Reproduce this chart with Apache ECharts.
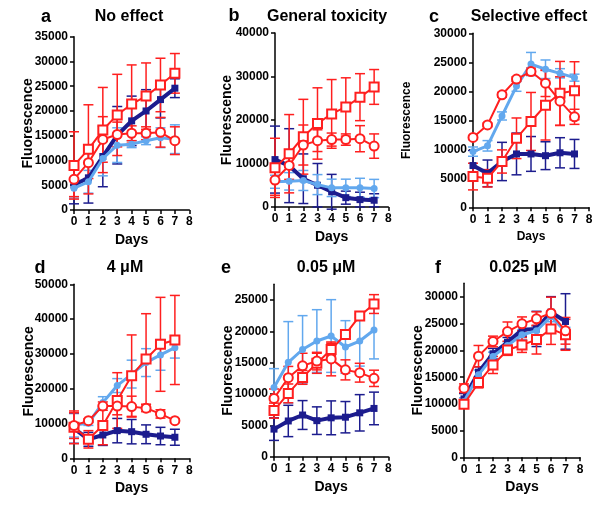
<!DOCTYPE html>
<html>
<head>
<meta charset="utf-8">
<script src="https://cdn.jsdelivr.net/npm/echarts@6/dist/echarts.min.js"></script>
<style>
  html, body { margin: 0; padding: 0; background: #fff; }
  #chart { width: 600px; height: 512px; }
</style>
</head>
<body>
<div id="chart"></div>
<script>
const days = [0, 1, 2, 3, 4, 5, 6, 7];

// a - No effect
const aNavy = [5050, 6500, 10800, 15100, 18000, 20000, 22300, 24600];
const aNavySd = [3800, 5100, 6100, 5800, 5000, 4300, 3700, 1900];
const aLight = [4400, 5700, 10400, 13100, 13300, 14000, 14600, 14300];
const aLightSd = [2000, 2300, 3500, 3500, 700, 800, 2000, 2900];
const aRedSq = [9000, 12250, 16150, 19200, 21400, 23000, 25250, 27600];
const aRedSqSd = [6800, 9000, 8600, 8200, 7900, 6700, 5400, 4000];
const aRedCi = [6200, 9550, 14250, 15250, 15500, 15500, 15700, 14000];
const aRedCiSd = [3500, 3200, 4600, 2500, 1500, 1300, 3000, 2800];

// b - General toxicity (same controls as a)
const bNavy = [10900, 9500, 6500, 5000, 3500, 2150, 1700, 1550];
const bNavySd = [7700, 8500, 5700, 5000, 4000, 1500, 1700, 1500];
const bLight = [5800, 5900, 6100, 5150, 4400, 4400, 4400, 4250];
const bLightSd = [1500, 2000, 2300, 2300, 2000, 2000, 2200, 2100];
const bRedSq = [9000, 12250, 16150, 19200, 21400, 23000, 25250, 27600];
const bRedSqSd = [6800, 9000, 8600, 8200, 7900, 6700, 5400, 4000];
const bRedCi = [6200, 9550, 14250, 15250, 15500, 15500, 15700, 14000];
const bRedCiSd = [3500, 3200, 4600, 2500, 1500, 1300, 3000, 2800];

// c - Selective effect
const cNavy = [7200, 5850, 7900, 9200, 9200, 8900, 9400, 9200];
const cNavySd = [2600, 2300, 3300, 3600, 3000, 2400, 2600, 2500];
const cLight = [9600, 10600, 15750, 20900, 24700, 23800, 23100, 22350];
const cLightSd = [800, 900, 700, 900, 2000, 1600, 800, 600];
const cRedSq = [5300, 5000, 7900, 11900, 14800, 17600, 19650, 20100];
const cRedSqSd = [2300, 1500, 2000, 3500, 5000, 6000, 5500, 5000];
const cRedCi = [12050, 14200, 19400, 22100, 23400, 21400, 18300, 15600];
const cRedCiSd = [300, 300, 400, 400, 600, 2300, 4200, 1300];

// d - 4 uM
const dNavy = [8600, 5450, 6700, 7950, 7650, 6900, 6400, 6050];
const dNavySd = [4300, 2000, 3000, 3500, 3500, 2700, 2500, 2300];
const dLight = [9600, 10050, 16000, 20900, 24200, 27500, 29700, 31800];
const dLightSd = [3500, 600, 1700, 2000, 4000, 4000, 4400, 3000];
const dRedSq = [8900, 5450, 9400, 16600, 23750, 28550, 32750, 34000];
const dRedSqSd = [4700, 2500, 5500, 8000, 11700, 13000, 13500, 12800];
const dRedCi = [9400, 10800, 15000, 15000, 14850, 14400, 12750, 10800];
const dRedCiSd = [3700, 500, 1200, 2500, 3000, 1000, 1200, 500];

// e - 0.05 uM
const eNavy = [4400, 5700, 6650, 5750, 6200, 6300, 7000, 7700];
const eNavySd = [1800, 2500, 2300, 2200, 2700, 2500, 2900, 2600];
const eLight = [11050, 15050, 17100, 18450, 19250, 17500, 18450, 20200];
const eLightSd = [3000, 6500, 5400, 5000, 5800, 4200, 4000, 4600];
const eRedSq = [7350, 10100, 12650, 14900, 17100, 19500, 22450, 24350];
const eRedSqSd = [1200, 1500, 1100, 1600, 1000, 300, 300, 1500];
const eRedCi = [9300, 12600, 14500, 15250, 15600, 13850, 13400, 12500];
const eRedCiSd = [1500, 1800, 2000, 1400, 2700, 1600, 1500, 1300];

// f - 0.025 uM
const fNavy = [10950, 15950, 19400, 21550, 23900, 24050, 27200, 25450];
const fNavySd = [1000, 1000, 1000, 900, 1200, 3300, 2900, 5200];
const fLight = [10450, 15450, 18900, 20950, 22950, 23700, 26400, 23550];
const fLightSd = [700, 900, 800, 700, 900, 800, 1000, 800];
const fRedSq = [9950, 14000, 17300, 20100, 21050, 22050, 24050, 22950];
const fRedSqSd = [500, 1000, 1600, 1000, 1400, 2700, 2900, 2900];
const fRedCi = [12950, 18950, 21700, 23550, 25000, 25950, 27000, 23700];
const fRedCiSd = [800, 2000, 1000, 1800, 1300, 1300, 3000, 2500];

const NAVY = '#1c1c8e';
const LIGHT = '#62a8ee';
const RED = '#ff1f1f';
const FONT = '"Liberation Sans", Arial, Helvetica, sans-serif';

const panels = [
  { letter: 'a', title: 'No effect', pos: [74, 36.7, 115.3, 173.3], yMax: 35000, yStep: 5000, nameGap: 39, small: false,
    letterXY: [46, 17], titleXY: [129, 17],
    s: [aNavy, aNavySd, aLight, aLightSd, aRedSq, aRedSqSd, aRedCi, aRedCiSd] },
  { letter: 'b', title: 'General toxicity', pos: [275, 33, 113.3, 174], yMax: 40000, yStep: 10000, nameGap: 41, small: false,
    letterXY: [234, 16], titleXY: [327, 17],
    s: [bNavy, bNavySd, bLight, bLightSd, bRedSq, bRedSqSd, bRedCi, bRedCiSd] },
  { letter: 'c', title: 'Selective effect', pos: [473, 33.3, 116, 174], yMax: 30000, yStep: 5000, nameGap: 60, small: true,
    letterXY: [434, 17], titleXY: [529, 17],
    s: [cNavy, cNavySd, cLight, cLightSd, cRedSq, cRedSqSd, cRedCi, cRedCiSd] },
  { letter: 'd', title: '4 μM', pos: [74, 284.3, 115.3, 174], yMax: 50000, yStep: 10000, nameGap: 38, small: false,
    letterXY: [40, 268], titleXY: [125, 268],
    s: [dNavy, dNavySd, dLight, dLightSd, dRedSq, dRedSqSd, dRedCi, dRedCiSd] },
  { letter: 'e', title: '0.05 μM', pos: [274, 284.3, 114.3, 172.4], yMax: 27500, yStep: 5000, yTop: 25000, nameGap: 39, small: false,
    letterXY: [226, 268], titleXY: [326, 268],
    s: [eNavy, eNavySd, eLight, eLightSd, eRedSq, eRedSqSd, eRedCi, eRedCiSd] },
  { letter: 'f', title: '0.025 μM', pos: [464, 283.3, 116, 174], yMax: 32600, yStep: 5000, yTop: 30000, nameGap: 39, small: false,
    letterXY: [438, 268], titleXY: [523, 268],
    s: [fNavy, fNavySd, fLight, fLightSd, fRedSq, fRedSqSd, fRedCi, fRedCiSd] }
];

function errRender(params, api) {
  const x = api.value(0);
  const lo = api.coord([x, api.value(1)]);
  const hi = api.coord([x, api.value(2)]);
  const w = 5;
  const style = { stroke: api.visual('color'), lineWidth: 1.5 };
  return {
    type: 'group',
    children: [
      { type: 'line', shape: { x1: lo[0], y1: hi[1], x2: lo[0], y2: lo[1] }, style },
      { type: 'line', shape: { x1: lo[0] - w, y1: hi[1], x2: lo[0] + w, y2: hi[1] }, style },
      { type: 'line', shape: { x1: lo[0] - w, y1: lo[1], x2: lo[0] + w, y2: lo[1] }, style }
    ]
  };
}

const axisStyle = { show: true, lineStyle: { color: '#000', width: 1.5 } };
const tickStyle = { show: true, inside: false, length: 4, lineStyle: { color: '#000', width: 1.5 } };

const grid = [], xAxis = [], yAxis = [], series = [], graphic = [];

panels.forEach((p, i) => {
  grid.push({ left: p.pos[0], top: p.pos[1], width: p.pos[2], height: p.pos[3] });

  const nameSize = p.small ? 12 : 14;
  xAxis.push({
    gridIndex: i, type: 'value', min: 0, max: 8, interval: 1,
    name: 'Days', nameLocation: 'middle', nameGap: 23, nameMoveOverlap: false,
    nameTextStyle: { fontFamily: FONT, fontWeight: 'bold', fontSize: nameSize, color: '#000' },
    axisLine: axisStyle, axisTick: tickStyle,
    axisLabel: { fontFamily: FONT, fontWeight: 'bold', fontSize: 12, color: '#000', margin: 6 },
    splitLine: { show: false }
  });

  const yLabel = {
    fontFamily: FONT, fontWeight: 'bold', fontSize: 12, color: '#000', margin: 6,
    formatter: v => String(v)
  };
  const yTick = Object.assign({}, tickStyle);
  if (p.yTop) {
    const vals = [];
    for (let v = 0; v <= p.yTop; v += p.yStep) vals.push(v);
    yLabel.customValues = vals;
    yTick.customValues = vals;
  }
  yAxis.push({
    gridIndex: i, type: 'value', min: 0, max: p.yMax, interval: p.yStep,
    name: 'Fluorescence', nameLocation: 'middle', nameRotate: 90, nameGap: p.nameGap,
    nameMoveOverlap: false,
    nameTextStyle: { fontFamily: FONT, fontWeight: 'bold', fontSize: nameSize, color: '#000' },
    axisLine: axisStyle, axisTick: yTick, axisLabel: yLabel,
    splitLine: { show: false }
  });

  const defs = [
    { color: NAVY, symbol: 'rect', size: 7, width: 4, fill: NAVY, border: 0 },
    { color: LIGHT, symbol: 'circle', size: 7, width: 3, fill: LIGHT, border: 0 },
    { color: RED, symbol: 'rect', size: 9, width: 2, fill: '#fff', border: 2 },
    { color: RED, symbol: 'circle', size: 9, width: 2, fill: '#fff', border: 2 }
  ];

  defs.forEach((d, k) => {
    const mean = p.s[k * 2];
    const sd = p.s[k * 2 + 1];
    series.push({
      type: 'custom', xAxisIndex: i, yAxisIndex: i,
      renderItem: errRender, itemStyle: { color: d.color },
      encode: { x: 0, y: [1, 2] },
      data: days.map((x, j) => [x, mean[j] - sd[j], mean[j] + sd[j]]),
      z: 2 + k, silent: true
    });
  });
  defs.forEach((d, k) => {
    const mean = p.s[k * 2];
    series.push({
      type: 'line', xAxisIndex: i, yAxisIndex: i,
      data: days.map((x, j) => [x, mean[j]]),
      symbol: d.symbol, symbolSize: d.size, showAllSymbol: true,
      lineStyle: { color: d.color, width: d.width },
      itemStyle: { color: d.fill, borderColor: d.color, borderWidth: d.border },
      z: 10 + k, silent: true
    });
  });

  graphic.push({
    type: 'text', x: p.letterXY[0], y: p.letterXY[1],
    style: { text: p.letter, font: 'bold 18px ' + FONT, fill: '#000', textAlign: 'center', textVerticalAlign: 'middle' }
  });
  graphic.push({
    type: 'text', x: p.titleXY[0], y: p.titleXY[1],
    style: { text: p.title, font: 'bold 16px ' + FONT, fill: '#000', textAlign: 'center', textVerticalAlign: 'middle' }
  });
});

const chart = echarts.init(document.getElementById('chart'), null, { renderer: 'canvas' });
chart.setOption({
  animation: false,
  backgroundColor: '#fff',
  grid, xAxis, yAxis, series, graphic
});
</script>
</body>
</html>
